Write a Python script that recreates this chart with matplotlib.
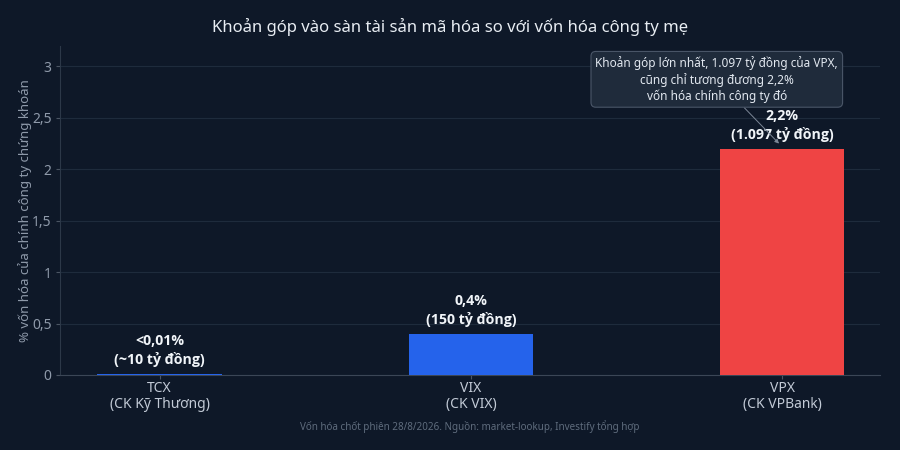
import matplotlib
matplotlib.use("Agg")
import matplotlib.pyplot as plt

plt.rcParams['font.family'] = ['Noto Sans', 'DejaVu Sans']

categories = ["TCX\n(CK Kỹ Thương)", "VIX\n(CK VIX)", "VPX\n(CK VPBank)"]
values = [0.01, 0.4, 2.2]
bar_labels = ["<0,01%\n(~10 tỷ đồng)", "0,4%\n(150 tỷ đồng)", "2,2%\n(1.097 tỷ đồng)"]
bar_colors = ["#2563eb", "#2563eb", "#ef4444"]
yticks = [0, 0.5, 1, 1.5, 2, 2.5, 3]
ytick_labels = ["0", "0,5", "1", "1,5", "2", "2,5", "3"]

bg = "#0e1828"
fig = plt.figure(figsize=(9, 4.5), dpi=100, facecolor=bg)
ax = fig.add_axes([0.0667, 0.1667, 0.9113, 0.7313], facecolor=bg)

x = list(range(len(categories)))
ax.bar(x, values, width=0.4, color=bar_colors, zorder=3)

for xi, v, lab in zip(x, values, bar_labels):
    ax.annotate(lab, xy=(xi, v), xytext=(0, 5), textcoords="offset points",
                ha="center", va="bottom", color="#f1f5f9", fontsize=10.2,
                fontweight="bold", family=["Open Sans", "Noto Sans", "DejaVu Sans"],
                linespacing=1.3, zorder=5)

ax.set_xlim(-0.32, 2.315)
ax.set_ylim(0, 3.2)
ax.set_xticks(x)
ax.set_xticklabels(categories, color="#c2cad6", fontsize=10, linespacing=1.1)
ax.set_yticks(yticks)
ax.set_yticklabels(ytick_labels, color="#8f9aaa", fontsize=10)
ax.tick_params(axis="x", length=3, color="#4b5563", pad=1)
ax.tick_params(axis="y", length=3, color="#4b5563", pad=3)
ax.grid(axis="y", color="#1e2b3c", linewidth=0.8, zorder=0)
for s in ["top", "right"]:
    ax.spines[s].set_visible(False)
ax.spines["left"].set_color("#2c3848")
ax.spines["bottom"].set_color("#3b4656")

ax.set_ylabel("% vốn hóa của chính công ty chứng khoán", color="#8f9aaa", fontsize=9.5)
ax.yaxis.set_label_coords(-0.034, 0.5)

fig.text(0.5, 0.94, "Khoản góp vào sàn tài sản mã hóa so với vốn hóa công ty mẹ",
         ha="center", va="center", color="#e8edf3", fontsize=12)
fig.text(0.5225, 0.052, "Vốn hóa chốt phiên 28/8/2026. Nguồn: market-lookup, Investify tổng hợp",
         ha="center", va="center", color="#5f6c7d", fontsize=7.1)

ax.annotate("Khoản góp lớn nhất, 1.097 tỷ đồng của VPX,\ncũng chỉ tương đương 2,2%\nvốn hóa chính công ty đó",
            xy=(1.99, 2.25), xytext=(1.79, 2.875), textcoords="data",
            ha="center", va="center", color="#e2e8f0", fontsize=8.5, linespacing=1.25,
            bbox=dict(boxstyle="round,pad=0.38,rounding_size=0.4", fc="#1f2b3b", ec="#4a5668", lw=0.8),
            arrowprops=dict(arrowstyle="-|>", mutation_scale=6, color="#7b8696", lw=0.7, shrinkA=0, shrinkB=0),
            zorder=6)

fig.savefig("out.png", dpi=100, facecolor=bg)
